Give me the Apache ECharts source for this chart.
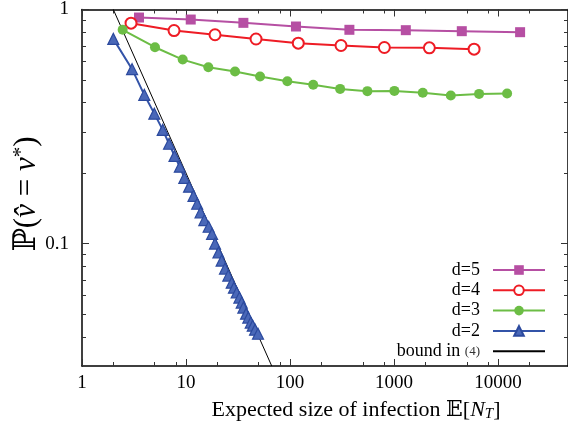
<!DOCTYPE html>
<html><head><meta charset="utf-8">
<script src="https://cdn.jsdelivr.net/npm/echarts@6/dist/echarts.min.js"></script>
<style>html,body{margin:0;padding:0;background:#fff}#c{width:568px;height:433px}</style>
</head><body><div id="c"></div>
<script>
// ---- data ----
const seriesNames = ['d=5', 'd=4', 'd=3', 'd=2', 'bound in (4)'];
const d5X = [3.53, 11.1, 35.6, 114, 372, 1297, 4478, 16280];
const d5Y = [0.924, 0.906, 0.877, 0.846, 0.819, 0.816, 0.808, 0.800];
const d4X = [2.96, 7.67, 19.0, 47.1, 120, 309, 807, 2184, 5878];
const d4Y = [0.874, 0.813, 0.780, 0.748, 0.718, 0.702, 0.688, 0.686, 0.677];
const d3X = [2.46, 5.03, 9.29, 16.4, 29.6, 51.5, 94.2, 167, 303, 554, 1007, 1888, 3509, 6565, 12210];
const d3Y = [0.819, 0.690, 0.611, 0.567, 0.543, 0.517, 0.494, 0.477, 0.458, 0.448, 0.449, 0.441, 0.429, 0.436, 0.438];
const d2X = [2.0, 3.03, 3.97, 4.96, 5.97, 6.87, 7.75, 8.72, 9.63, 10.7, 11.8, 12.8, 13.8, 15.0, 16.5, 17.8, 19.0, 20.5, 22.0, 23.7, 25.5, 27.5, 28.9, 30.7, 32.6, 34.3, 35.6, 37.8, 39.7, 41.9, 43.8, 46.1, 49.2];
const d2Y = [0.749, 0.556, 0.432, 0.359, 0.306, 0.267, 0.237, 0.213, 0.191, 0.175, 0.160, 0.148, 0.136, 0.126, 0.118, 0.110, 0.100, 0.0916, 0.0846, 0.0782, 0.0730, 0.0681, 0.0648, 0.0618, 0.0588, 0.0560, 0.0533, 0.0502, 0.0483, 0.0460, 0.0446, 0.0429, 0.0412];
const boundX = [2, 66.7];
const boundY = [1, 0.03];

const xMajorTicks = [1, 10, 100, 1000, 10000];
const xTickLabels = ['1', '10', '100', '1000', '10000'];
const xMinorTicks = [2, 5, 8, 20, 50, 80, 200, 500, 800, 2000, 5000, 8000, 20000];
const yMajorTicks = [0.1, 1];
const yTickLabels = ['0.1', '1'];
const yMinorTicks = [0.04, 0.05, 0.06, 0.07, 0.08, 0.09, 0.2, 0.3, 0.4, 0.5, 0.6, 0.7, 0.8, 0.9];
const xMin = 1, xMax = 47000, yMin = 0.03, yMax = 1;

// ---- chart ----
const FONT = 'Liberation Serif';
const MATHFONT = "'Liberation Serif', 'DejaVu Serif', serif";
const zip = (xs, ys) => xs.map((x, i) => [x, ys[i]]);

function xAxisDef(position, ticks, len, showLine, labels) {
  return {
    type: 'log', logBase: 10, min: xMin, max: xMax, position: position,
    axisLine: { show: showLine, onZero: false, lineStyle: { color: '#000', width: 1.5 } },
    axisTick: { show: true, inside: true, length: len, customValues: ticks, lineStyle: { color: '#333', width: 1 } },
    axisLabel: labels ? { show: true, customValues: xMajorTicks, formatter: (v) => xTickLabels[xMajorTicks.findIndex(t => Math.abs(t - v) / t < 1e-6)], margin: 8, fontFamily: FONT, fontSize: 19, color: '#000' } : { show: false },
    splitLine: { show: false }, minorTick: { show: false }
  };
}
function yAxisDef(position, ticks, len, showLine, labels) {
  return {
    type: 'log', logBase: 10, min: yMin, max: yMax, position: position,
    axisLine: { show: showLine, onZero: false, lineStyle: { color: '#000', width: 1.5 } },
    axisTick: { show: true, inside: true, length: len, customValues: ticks, lineStyle: { color: '#333', width: 1 } },
    axisLabel: labels ? { show: true, customValues: yMajorTicks, formatter: (v) => yTickLabels[yMajorTicks.findIndex(t => Math.abs(t - v) / t < 1e-6)], margin: 13, fontFamily: FONT, fontSize: 19, color: '#000' } : { show: false },
    splitLine: { show: false }, minorTick: { show: false }
  };
}

const lineBase = { type: 'line', xAxisIndex: 0, yAxisIndex: 0, clip: true, animation: false };
const option = {
  animation: false,
  grid: { left: 82, right: 0, top: 9, bottom: 67 },
  xAxis: [
    xAxisDef('bottom', xMajorTicks, 7, true, true),
    xAxisDef('bottom', xMinorTicks, 4, false, false),
    xAxisDef('top', xMajorTicks, 7, true, false),
    xAxisDef('top', xMinorTicks, 4, false, false)
  ],
  yAxis: [
    yAxisDef('left', yMajorTicks, 7, true, true),
    yAxisDef('left', yMinorTicks, 4, false, false),
    yAxisDef('right', yMajorTicks, 7, true, false),
    yAxisDef('right', yMinorTicks, 4, false, false)
  ],
  legend: {
    orient: 'vertical', right: 22, top: 261, align: 'right', padding: 0,
    itemWidth: 52, itemHeight: 12, itemGap: 2.3,
    data: seriesNames.map(n => n === 'bound in (4)' ? { name: n, itemStyle: { color: 'transparent', borderWidth: 0, opacity: 0 } } : n),
    formatter: n => n === 'bound in (4)' ? '{t|bound in }{s|(4)}' : n,
    textStyle: { fontFamily: FONT, fontSize: 18, color: '#000', padding: [0, 8, 0, 0],
      rich: { t: { fontFamily: FONT, fontSize: 18, color: '#000' }, s: { fontFamily: FONT, fontSize: 13, color: '#333' } } }
  },
  series: [
    Object.assign({}, lineBase, { name: 'd=5', data: zip(d5X, d5Y), symbol: 'rect', symbolSize: 10,
      lineStyle: { color: '#b64fa3', width: 2 }, itemStyle: { color: '#b64fa3' } }),
    Object.assign({}, lineBase, { name: 'd=4', data: zip(d4X, d4Y), symbol: 'emptyCircle', symbolSize: 11,
      lineStyle: { color: '#ee1c25', width: 2 }, itemStyle: { color: '#ee1c25', borderColor: '#ee1c25', borderWidth: 2.2 } }),
    Object.assign({}, lineBase, { name: 'd=3', data: zip(d3X, d3Y), symbol: 'circle', symbolSize: 10,
      lineStyle: { color: '#6cbd45', width: 2 }, itemStyle: { color: '#6cbd45' } }),
    Object.assign({}, lineBase, { name: 'd=2', data: zip(d2X, d2Y), symbol: 'triangle', symbolSize: 11,
      lineStyle: { color: '#3353a8', width: 2 }, itemStyle: { color: '#4a68b8', borderColor: '#2c4a9e', borderWidth: 1.2 } }),
    Object.assign({}, lineBase, { name: 'bound in (4)', data: zip(boundX, boundY), symbol: 'none',
      lineStyle: { color: '#000', width: 1 }, itemStyle: { color: '#000' } })
  ],
  graphic: [
    { type: 'text', x: 356, y: 410, silent: true,
      style: { text: '{n|Expected size of infection 𝔼[}{i|N}{b|T}{n|]}', align: 'center', verticalAlign: 'middle',
        rich: { n: { fontFamily: MATHFONT, fontSize: 22, fill: '#000' }, i: { fontFamily: FONT, fontSize: 22, fontStyle: 'italic', fill: '#000' },
                b: { fontFamily: FONT, fontSize: 15, fontStyle: 'italic', fill: '#000', padding: [8, 0, 0, 0] } } } },
    { type: 'text', x: 27, y: 194, rotation: Math.PI / 2, silent: true,
      style: { text: '{n|ℙ(}{i|v̂}{n| = }{i|v}{s|*}{n|)}', align: 'center', verticalAlign: 'middle',
        rich: { n: { fontFamily: MATHFONT, fontSize: 31, fill: '#000' }, i: { fontFamily: FONT, fontSize: 31, fontStyle: 'italic', fill: '#000' },
                s: { fontFamily: FONT, fontSize: 21, fill: '#000', padding: [0, 0, 11, 0] } } } }
  ]
};
const chart = echarts.init(document.getElementById('c'), null, { renderer: 'canvas' });
chart.setOption(option);
</script>
</body></html>
